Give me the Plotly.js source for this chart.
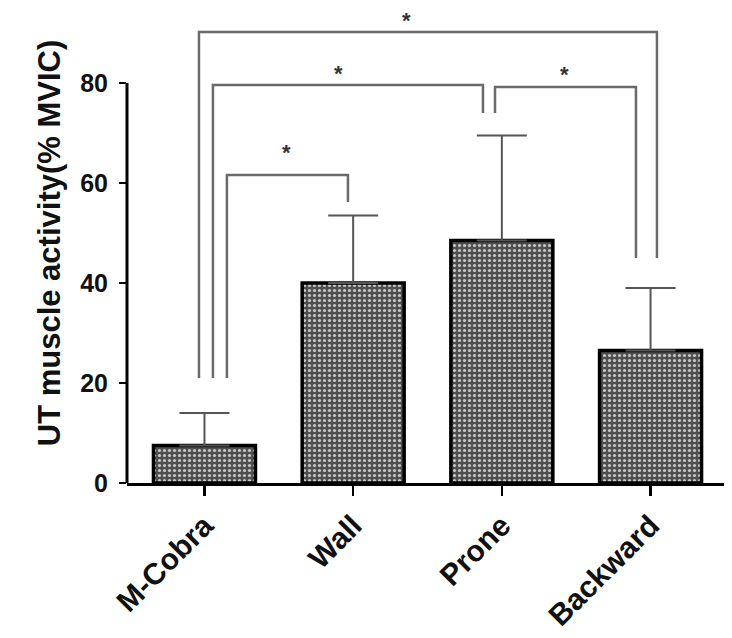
<!DOCTYPE html>
<html>
<head>
<meta charset="utf-8">
<script src="https://cdn.plot.ly/plotly-3.0.1.min.js"></script>
<style>
  html, body { margin: 0; padding: 0; background: #fff; }
  #chart { width: 732px; height: 638px; }
</style>
</head>
<body>
<div id="chart"></div>
<script>
// data
const categories = ["M-Cobra", "Wall", "Prone", "Backward"];
const meanValues = [7.5, 40, 48.5, 26.5];
const sdValues = [6.5, 13.5, 21, 12.5];
const yTicks = [0, 20, 40, 60, 80];

// significance brackets: [left leg x, left leg bottom, right leg x, right leg bottom, top]
const brackets = [
  [-0.037, 21, 3.043, 45, 90.2],
  [0.057, 21, 1.873, 74, 79.6],
  [1.954, 74, 2.902, 45, 79.2],
  [0.151, 21, 0.965, 56.2, 61.6]
];
// star positions [x, y]
const stars = [[1.362, 92.6], [0.904, 82], [2.424, 81.8], [0.555, 66.2]];

const fontFam = "Liberation Sans, Arial, sans-serif";

const trace = {
  type: "bar",
  x: categories,
  y: meanValues,
  width: 0.686,
  marker: {
    color: "#5a5a5a",
    line: { color: "#000", width: 3.5 },
    pattern: { shape: ".", bgcolor: "#4f4f4f", fgcolor: "#c8c8c8", size: 5, solidity: 0.3 }
  },
  error_y: {
    type: "data",
    symmetric: false,
    array: sdValues,
    arrayminus: sdValues.map(() => 0),
    color: "#555",
    thickness: 2,
    width: 25
  },
  hoverinfo: "skip"
};

let shapes = [];
for (let b of brackets) {
  shapes.push({
    type: "path",
    xref: "x", yref: "y",
    path: `M ${b[0]} ${b[1]} L ${b[0]} ${b[4]} L ${b[2]} ${b[4]} L ${b[2]} ${b[3]}`,
    line: { color: "#6a6a6a", width: 2.5 }
  });
}
// y axis line only up to 80
shapes.push({
  type: "line", xref: "paper", yref: "y",
  x0: 0, x1: 0, y0: 0, y1: 80,
  line: { color: "#000", width: 3 }
});

const annotations = stars.map(s => ({
  x: s[0], y: s[1], xref: "x", yref: "y",
  text: "*", showarrow: false,
  font: { family: fontFam, size: 22, color: "#333", weight: "bold" },
  xanchor: "center", yanchor: "middle"
}));

const layout = {
  width: 732,
  height: 638,
  margin: { l: 127, r: 8, t: 3, b: 155 },
  paper_bgcolor: "#fff",
  plot_bgcolor: "#fff",
  showlegend: false,
  xaxis: {
    type: "category",
    range: [-0.521, 3.494],
    showline: true,
    linecolor: "#000",
    linewidth: 3,
    ticks: "outside",
    ticklen: 10,
    tickwidth: 2.5,
    tickcolor: "#000",
    tickangle: -45,
    tickfont: { family: fontFam, size: 30, color: "#111", weight: "bold" },
    showgrid: false,
    zeroline: false
  },
  yaxis: {
    range: [0, 96],
    tickvals: yTicks,
    ticks: "outside",
    ticklen: 7,
    tickwidth: 2.5,
    tickcolor: "#000",
    ticklabelstandoff: 6,
    tickfont: { family: fontFam, size: 25, color: "#111", weight: "bold" },
    showline: false,
    showgrid: false,
    zeroline: false,
    title: {
      text: "UT muscle activity(% MVIC)",
      font: { family: fontFam, size: 31, color: "#111", weight: "bold" },
      standoff: 10
    }
  },
  shapes: shapes,
  annotations: annotations
};

Plotly.newPlot("chart", [trace], layout, { displayModeBar: false, staticPlot: true });
</script>
</body>
</html>
